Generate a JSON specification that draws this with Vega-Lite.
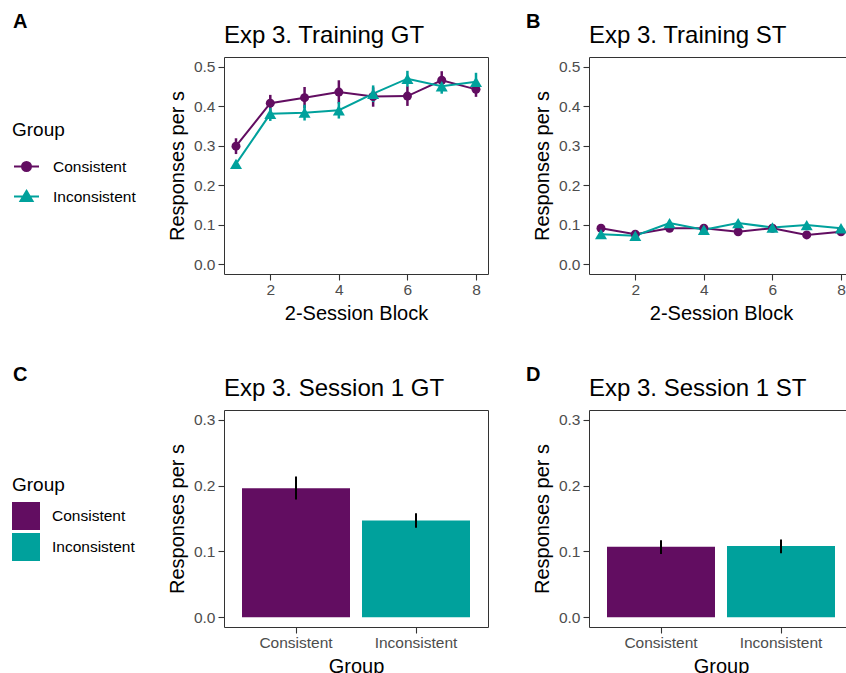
{
  "$schema": "https://vega.github.io/schema/vega-lite/v6.json",
  "padding": {"left": 12, "top": 11, "right": 0, "bottom": 0},
  "background": "white",
  "config": {
    "font": "Liberation Sans",
    "view": {"stroke": "#333333", "strokeWidth": 1},
    "axis": {"domain": false, "grid": false, "tickColor": "#333333", "tickSize": 6, "tickWidth": 1.1, "labelColor": "#4D4D4D", "labelFontSize": 15.5, "labelPadding": 3, "titleFontSize": 20, "titleFontWeight": "normal", "titleColor": "#000000"},
    "axisY": {"titlePadding": 6},
    "axisX": {"labelPadding": 2, "titlePadding": 6},
    "title": {"fontSize": 24, "fontWeight": "normal", "anchor": "start", "frame": "group", "color": "#000000", "offset": 9},
    "legend": {"titleFontSize": 19, "titleFontWeight": "normal", "titleColor": "#000000", "labelFontSize": 15.5, "labelColor": "#000000", "padding": 0},
    "concat": {"spacing": 36}
  },
  "datasets": {
    "training": [
      {"Block": 1, "Group": "Consistent", "Task": "GT", "mean": 0.299, "lower": 0.279, "upper": 0.319},
      {"Block": 2, "Group": "Consistent", "Task": "GT", "mean": 0.408, "lower": 0.387, "upper": 0.429},
      {"Block": 3, "Group": "Consistent", "Task": "GT", "mean": 0.422, "lower": 0.395, "upper": 0.449},
      {"Block": 4, "Group": "Consistent", "Task": "GT", "mean": 0.436, "lower": 0.407, "upper": 0.466},
      {"Block": 5, "Group": "Consistent", "Task": "GT", "mean": 0.425, "lower": 0.399, "upper": 0.448},
      {"Block": 6, "Group": "Consistent", "Task": "GT", "mean": 0.426, "lower": 0.401, "upper": 0.451},
      {"Block": 7, "Group": "Consistent", "Task": "GT", "mean": 0.466, "lower": 0.446, "upper": 0.489},
      {"Block": 8, "Group": "Consistent", "Task": "GT", "mean": 0.443, "lower": 0.424, "upper": 0.462},
      {"Block": 1, "Group": "Inconsistent", "Task": "GT", "mean": 0.254, "lower": 0.248, "upper": 0.260},
      {"Block": 2, "Group": "Inconsistent", "Task": "GT", "mean": 0.381, "lower": 0.363, "upper": 0.397},
      {"Block": 3, "Group": "Inconsistent", "Task": "GT", "mean": 0.384, "lower": 0.364, "upper": 0.404},
      {"Block": 4, "Group": "Inconsistent", "Task": "GT", "mean": 0.390, "lower": 0.369, "upper": 0.411},
      {"Block": 5, "Group": "Inconsistent", "Task": "GT", "mean": 0.432, "lower": 0.411, "upper": 0.453},
      {"Block": 6, "Group": "Inconsistent", "Task": "GT", "mean": 0.470, "lower": 0.450, "upper": 0.490},
      {"Block": 7, "Group": "Inconsistent", "Task": "GT", "mean": 0.451, "lower": 0.432, "upper": 0.470},
      {"Block": 8, "Group": "Inconsistent", "Task": "GT", "mean": 0.462, "lower": 0.440, "upper": 0.485},
      {"Block": 1, "Group": "Consistent", "Task": "ST", "mean": 0.091, "lower": 0.086, "upper": 0.096},
      {"Block": 2, "Group": "Consistent", "Task": "ST", "mean": 0.076, "lower": 0.072, "upper": 0.080},
      {"Block": 3, "Group": "Consistent", "Task": "ST", "mean": 0.091, "lower": 0.086, "upper": 0.096},
      {"Block": 4, "Group": "Consistent", "Task": "ST", "mean": 0.091, "lower": 0.086, "upper": 0.096},
      {"Block": 5, "Group": "Consistent", "Task": "ST", "mean": 0.082, "lower": 0.077, "upper": 0.087},
      {"Block": 6, "Group": "Consistent", "Task": "ST", "mean": 0.091, "lower": 0.086, "upper": 0.096},
      {"Block": 7, "Group": "Consistent", "Task": "ST", "mean": 0.074, "lower": 0.070, "upper": 0.078},
      {"Block": 8, "Group": "Consistent", "Task": "ST", "mean": 0.082, "lower": 0.077, "upper": 0.087},
      {"Block": 1, "Group": "Inconsistent", "Task": "ST", "mean": 0.076, "lower": 0.072, "upper": 0.080},
      {"Block": 2, "Group": "Inconsistent", "Task": "ST", "mean": 0.072, "lower": 0.068, "upper": 0.076},
      {"Block": 3, "Group": "Inconsistent", "Task": "ST", "mean": 0.104, "lower": 0.099, "upper": 0.109},
      {"Block": 4, "Group": "Inconsistent", "Task": "ST", "mean": 0.087, "lower": 0.082, "upper": 0.092},
      {"Block": 5, "Group": "Inconsistent", "Task": "ST", "mean": 0.104, "lower": 0.099, "upper": 0.109},
      {"Block": 6, "Group": "Inconsistent", "Task": "ST", "mean": 0.093, "lower": 0.088, "upper": 0.098},
      {"Block": 7, "Group": "Inconsistent", "Task": "ST", "mean": 0.099, "lower": 0.094, "upper": 0.104},
      {"Block": 8, "Group": "Inconsistent", "Task": "ST", "mean": 0.091, "lower": 0.086, "upper": 0.096}
    ],
    "session": [
      {"Group": "Consistent", "Task": "GT", "mean": 0.196, "lower": 0.179, "upper": 0.214},
      {"Group": "Inconsistent", "Task": "GT", "mean": 0.147, "lower": 0.136, "upper": 0.158},
      {"Group": "Consistent", "Task": "ST", "mean": 0.107, "lower": 0.096, "upper": 0.117},
      {"Group": "Inconsistent", "Task": "ST", "mean": 0.108, "lower": 0.097, "upper": 0.118}
    ]
  },
  "resolve": {"scale": {"color": "independent"}, "legend": {"color": "independent"}},
  "spacing": 40,
  "vconcat": [
    {
      "resolve": {"scale": {"color": "independent"}, "legend": {"color": "independent"}},
      "spacing": 36,
      "hconcat": [
        {
          "title": {"text": "A", "anchor": "start", "frame": "bounds", "fontSize": 20, "fontWeight": "bold", "offset": -8, "dx": 1},
          "vconcat": [
            {
              "width": 264, "height": 217,
              "title": {"text": "Exp 3. Training GT"},
              "data": {"name": "training"},
              "transform": [{"filter": "datum.Task === 'GT'"}],
              "encoding": {
                "x": {"field": "Block", "type": "quantitative", "scale": {"domain": [0.65, 8.35], "nice": false, "zero": false}, "axis": {"values": [2, 4, 6, 8], "title": "2-Session Block"}},
                "color": {"field": "Group", "type": "nominal", "scale": {"domain": ["Consistent", "Inconsistent"], "range": ["#620D61", "#00A19C"]},
                  "legend": {"title": "Group", "orient": "none", "legendX": -212, "legendY": 64, "symbolSize": 625, "symbolOffset": 1, "symbolStrokeWidth": 2, "rowPadding": 8, "titlePadding": 13, "labelOffset": 13,
                    "encode": {"symbols": {"update": {
                      "shape": [{"test": "datum.value === 'Consistent'", "value": "M-1,0H1M-0.36,0A0.36,0.36,0,1,0,0.36,0A0.36,0.36,0,1,0,-0.36,0Z"}, {"value": "M-1,0H1M0,-0.45L0.48,0.35L-0.48,0.35Z"}],
                      "fill": [{"test": "datum.value === 'Consistent'", "value": "#620D61"}, {"value": "#00A19C"}],
                      "stroke": [{"test": "datum.value === 'Consistent'", "value": "#620D61"}, {"value": "#00A19C"}],
                      "strokeWidth": {"value": 2},
                      "size": {"value": 625},
                      "opacity": {"value": 1}
                    }}}}}
              },
              "layer": [
                {"mark": {"type": "line", "strokeWidth": 2}, "encoding": {"y": {"field": "mean", "type": "quantitative", "scale": {"domain": [-0.025, 0.525], "nice": false, "zero": false}, "axis": {"values": [0, 0.1, 0.2, 0.3, 0.4, 0.5], "format": ".1f", "title": "Responses per s"}}}},
                {"mark": {"type": "rule", "strokeWidth": 2.5}, "encoding": {"y": {"field": "lower", "type": "quantitative"}, "y2": {"field": "upper"}}},
                {"transform": [{"filter": "datum.Group === 'Consistent'"}], "mark": {"type": "point", "filled": true, "opacity": 1, "shape": "circle", "size": 81}, "encoding": {"y": {"field": "mean", "type": "quantitative"}}},
                {"transform": [{"filter": "datum.Group === 'Inconsistent'"}], "mark": {"type": "point", "filled": true, "opacity": 1, "shape": "triangle-up", "size": 144}, "encoding": {"y": {"field": "mean", "type": "quantitative"}}}
              ]
            }
          ]
        },
        {
          "title": {"text": "B", "anchor": "start", "frame": "bounds", "fontSize": 20, "fontWeight": "bold", "offset": -8, "dx": -6},
          "vconcat": [
            {
              "width": 264, "height": 217,
              "title": {"text": "Exp 3. Training ST"},
              "data": {"name": "training"},
              "transform": [{"filter": "datum.Task === 'ST'"}],
              "encoding": {
                "x": {"field": "Block", "type": "quantitative", "scale": {"domain": [0.65, 8.35], "nice": false, "zero": false}, "axis": {"values": [2, 4, 6, 8], "title": "2-Session Block"}},
                "color": {"field": "Group", "type": "nominal", "scale": {"domain": ["Consistent", "Inconsistent"], "range": ["#620D61", "#00A19C"]}, "legend": null}
              },
              "layer": [
                {"mark": {"type": "line", "strokeWidth": 2}, "encoding": {"y": {"field": "mean", "type": "quantitative", "scale": {"domain": [-0.025, 0.525], "nice": false, "zero": false}, "axis": {"values": [0, 0.1, 0.2, 0.3, 0.4, 0.5], "format": ".1f", "title": "Responses per s"}}}},
                {"mark": {"type": "rule", "strokeWidth": 2.5}, "encoding": {"y": {"field": "lower", "type": "quantitative"}, "y2": {"field": "upper"}}},
                {"transform": [{"filter": "datum.Group === 'Consistent'"}], "mark": {"type": "point", "filled": true, "opacity": 1, "shape": "circle", "size": 81}, "encoding": {"y": {"field": "mean", "type": "quantitative"}}},
                {"transform": [{"filter": "datum.Group === 'Inconsistent'"}], "mark": {"type": "point", "filled": true, "opacity": 1, "shape": "triangle-up", "size": 144}, "encoding": {"y": {"field": "mean", "type": "quantitative"}}}
              ]
            }
          ]
        }
      ]
    },
    {
      "resolve": {"scale": {"color": "independent"}, "legend": {"color": "independent"}},
      "spacing": 36,
      "hconcat": [
        {
          "title": {"text": "C", "anchor": "start", "frame": "bounds", "fontSize": 20, "fontWeight": "bold", "offset": -8, "dx": 1},
          "vconcat": [
            {
              "width": 264, "height": 217,
              "title": {"text": "Exp 3. Session 1 GT"},
              "data": {"name": "session"},
              "transform": [{"filter": "datum.Task === 'GT'"}],
              "encoding": {
                "x": {"field": "Group", "type": "nominal", "scale": {"domain": ["Consistent", "Inconsistent"], "paddingInner": 0.1, "paddingOuter": 0.15}, "axis": {"labelAngle": 0, "title": "Group"}}
              },
              "layer": [
                {"mark": {"type": "bar"}, "encoding": {
                  "y": {"field": "mean", "type": "quantitative", "scale": {"domain": [-0.015, 0.315], "nice": false}, "axis": {"values": [0, 0.1, 0.2, 0.3], "format": ".1f", "title": "Responses per s"}},
                  "color": {"field": "Group", "type": "nominal", "scale": {"domain": ["Consistent", "Inconsistent"], "range": ["#620D61", "#00A19C"]},
                    "legend": {"title": "Group", "orient": "none", "legendX": -212, "legendY": 66, "symbolType": "square", "symbolSize": 784, "symbolStrokeWidth": 0, "rowPadding": 3, "titlePadding": 7, "labelOffset": 12}}
                }},
                {"mark": {"type": "rule", "color": "#000000", "strokeWidth": 2}, "encoding": {"y": {"field": "lower", "type": "quantitative"}, "y2": {"field": "upper"}}}
              ]
            }
          ]
        },
        {
          "title": {"text": "D", "anchor": "start", "frame": "bounds", "fontSize": 20, "fontWeight": "bold", "offset": -8, "dx": -6},
          "vconcat": [
            {
              "width": 264, "height": 217,
              "title": {"text": "Exp 3. Session 1 ST"},
              "data": {"name": "session"},
              "transform": [{"filter": "datum.Task === 'ST'"}],
              "encoding": {
                "x": {"field": "Group", "type": "nominal", "scale": {"domain": ["Consistent", "Inconsistent"], "paddingInner": 0.1, "paddingOuter": 0.15}, "axis": {"labelAngle": 0, "title": "Group"}}
              },
              "layer": [
                {"mark": {"type": "bar"}, "encoding": {
                  "y": {"field": "mean", "type": "quantitative", "scale": {"domain": [-0.015, 0.315], "nice": false}, "axis": {"values": [0, 0.1, 0.2, 0.3], "format": ".1f", "title": "Responses per s"}},
                  "color": {"field": "Group", "type": "nominal", "scale": {"domain": ["Consistent", "Inconsistent"], "range": ["#620D61", "#00A19C"]}, "legend": null}
                }},
                {"mark": {"type": "rule", "color": "#000000", "strokeWidth": 2}, "encoding": {"y": {"field": "lower", "type": "quantitative"}, "y2": {"field": "upper"}}}
              ]
            }
          ]
        }
      ]
    }
  ]
}
